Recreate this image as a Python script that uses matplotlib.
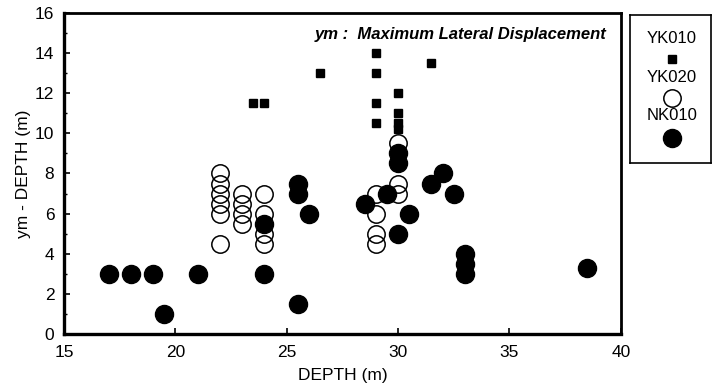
import matplotlib
matplotlib.use("Agg")
import matplotlib.pyplot as plt

plt.rcParams['font.family'] = ['Liberation Sans', 'DejaVu Sans']

# YK010 (small squares)
yk010_x = [23.5, 24, 26.5, 29, 29, 29, 29, 30, 30, 30, 30, 30, 31.5]
yk010_y = [11.5, 11.5, 13, 14, 13, 11.5, 10.5, 12, 11, 10.5, 10.2, 8.5, 13.5]

# YK020 (open circles)
yk020_x = [22, 22, 22, 22, 22, 22, 23, 23, 23, 23, 24, 24, 24, 24,
           29, 29, 29, 29, 30, 30, 30]
yk020_y = [8, 7.5, 7, 6.5, 6, 4.5, 7, 6.5, 6, 5.5, 7, 6, 5, 4.5,
           7, 6, 5, 4.5, 9.5, 7.5, 7]

# NK010 (filled circles)
nk010_x = [17, 18, 19, 19.5, 21, 24, 24, 25.5, 25.5, 25.5, 26, 28.5, 29.5,
           30, 30, 30, 30.5, 31.5, 32, 32.5, 33, 33, 33, 38.5]
nk010_y = [3, 3, 3, 1, 3, 3, 5.5, 7.5, 7, 1.5, 6, 6.5, 7,
           9, 8.5, 5, 6, 7.5, 8, 7, 4, 3.5, 3, 3.3]

legend_names = ['YK010', 'YK020', 'NK010']

fig = plt.figure(figsize=(7.21, 3.89), dpi=100)
ax = fig.add_axes([0.0888, 0.1414, 0.7722, 0.8252])

ax.plot(yk010_x, yk010_y, 's', color='black', markersize=5.8, linestyle='none')
ax.plot(yk020_x, yk020_y, 'o', markerfacecolor='none', markeredgecolor='black',
        markeredgewidth=1.1, markersize=12.5, linestyle='none')
ax.plot(nk010_x, nk010_y, 'o', color='black', markersize=13, linestyle='none')

ax.set_xlim(15, 40)
ax.set_ylim(0, 16)
ax.set_xticks([15, 20, 25, 30, 35, 40])
ax.set_yticks(range(0, 17, 2))
ax.set_yticks(range(0, 17, 1), minor=True)
ax.tick_params(direction='in', length=4, width=1.2, labelsize=12.5)
ax.tick_params(axis='x', pad=8)
ax.tick_params(axis='y', pad=7)
ax.tick_params(which='minor', direction='in', length=2, width=1)
for s in ['left', 'bottom']:
    ax.spines[s].set_linewidth(2.4)
for s in ['top', 'right']:
    ax.spines[s].set_linewidth(2.0)

ax.set_xlabel('DEPTH (m)', fontsize=12.5, labelpad=6)
ax.set_ylabel('ym - DEPTH (m)', fontsize=12.5, labelpad=3)
ax.text(0.975, 0.955, 'ym :  Maximum Lateral Displacement', transform=ax.transAxes,
        ha='right', va='top', fontsize=12, fontstyle='italic', fontweight='bold')

# legend box
lax = fig.add_axes([630 / 721, 1 - 163 / 389, 81 / 721, 148 / 389])
lax.set_xlim(0, 1)
lax.set_ylim(0, 1)
lax.set_xticks([])
lax.set_yticks([])
for s in lax.spines.values():
    s.set_linewidth(1.2)
ty = [0.84, 0.58, 0.32]
my = [0.70, 0.44, 0.17]
for name, t in zip(legend_names, ty):
    lax.text(0.52, t, name, ha='center', va='center', fontsize=12)
lax.plot([0.52], [my[0]], 's', color='black', markersize=5.8)
lax.plot([0.52], [my[1]], 'o', markerfacecolor='none', markeredgecolor='black',
         markeredgewidth=1.1, markersize=12.5)
lax.plot([0.52], [my[2]], 'o', color='black', markersize=13)

fig.savefig('out.png', dpi=100)
